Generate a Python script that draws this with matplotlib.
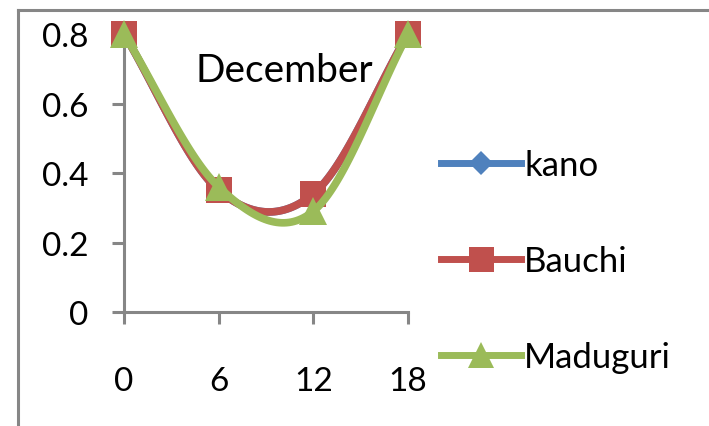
import numpy as np
import matplotlib
matplotlib.use("Agg")
import matplotlib.pyplot as plt
from matplotlib.lines import Line2D

plt.rcParams['font.family'] = ['Lato', 'DejaVu Sans']

hours = [0, 6, 12, 18]
kano = [0.80, 0.35, 0.34, 0.80]
bauchi = [0.80, 0.35, 0.34, 0.80]
maduguri = [0.80, 0.36, 0.29, 0.80]
series_names = ["kano", "Bauchi", "Maduguri"]
colors = ["#4F81BD", "#C0504D", "#9BBB59"]
markers = ["D", "s", "^"]
msizes = [12, 19, 20]
yticks = [0, 0.2, 0.4, 0.6, 0.8]
xticks = [0, 6, 12, 18]
title = "December"


def smooth(x, y, n=40):
    # Excel-style smoothed line (cubic Bezier, Catmull-Rom-like control points)
    p = np.column_stack([x, y]).astype(float)
    out = []
    for i in range(len(p) - 1):
        p1 = p[i]
        p2 = p[i + 1]
        if i > 0:
            c1 = p1 + (p2 - p[i - 1]) / 6.0
        else:
            c1 = p1 + (p2 - p1) / 3.0
        if i + 2 < len(p):
            c2 = p2 - (p[i + 2] - p1) / 6.0
        else:
            c2 = p2 - (p2 - p1) / 3.0
        t = np.linspace(0, 1, n)[:, None]
        seg = ((1 - t) ** 3) * p1 + 3 * ((1 - t) ** 2) * t * c1 + 3 * (1 - t) * t ** 2 * c2 + t ** 3 * p2
        out.append(seg if i == 0 else seg[1:])
    s = np.vstack(out)
    return s[:, 0], s[:, 1]


W, H = 709, 427
fig = plt.figure(figsize=(W / 100, H / 100), dpi=100)
fig.patch.set_facecolor("white")

# chart-area border (left and top visible)
gray = "#868686"
fig.add_artist(Line2D([18 / W, 18 / W], [0, 1 - 11 / H], color=gray, lw=2.2, transform=fig.transFigure))
fig.add_artist(Line2D([18 / W, 1.0], [1 - 11 / H, 1 - 11 / H], color=gray, lw=2.2, transform=fig.transFigure))

left, right, top, bottom = 124, 408, 35, 313
ax = fig.add_axes([left / W, 1 - bottom / H, (right - left) / W, (bottom - top) / H])
ax.set_xlim(0, 18)
ax.set_ylim(0, 0.8)

data = [kano, bauchi, maduguri]
for k, (vals, name, c, m, ms) in enumerate(zip(data, series_names, colors, markers, msizes)):
    sx, sy = smooth(hours, vals)
    ax.plot(sx, sy, color=c, lw=5.5, solid_capstyle='round', zorder=3 + 2 * k, clip_on=False)
    ax.plot(hours, vals, linestyle='none', marker=m, ms=ms, color=c, markeredgewidth=0,
            zorder=4 + 2 * k, clip_on=False)

for s in ["top", "right"]:
    ax.spines[s].set_visible(False)
for s in ["left", "bottom"]:
    ax.spines[s].set_color(gray)
    ax.spines[s].set_linewidth(2.2)
ax.set_xticks(xticks)
ax.set_xticklabels([str(v) for v in xticks])
ax.set_yticks(yticks)
ax.set_yticklabels(["0" if v == 0 else f"{v:.1f}" for v in yticks])
ax.tick_params(axis='both', direction='out', length=8.6, width=2.2, color=gray,
               labelsize=24, labelcolor="black")
ax.tick_params(axis='y', pad=17)
ax.tick_params(axis='x', pad=30)
ax.patch.set_alpha(0)

ax.text((284 - left) / (right - left), (bottom - 82) / (bottom - top), title,
        transform=ax.transAxes, ha='center', va='baseline', fontsize=28, color='black', zorder=20)

leg_sizes = [12, 18, 19]
handles = [Line2D([], [], color=c, lw=5, marker=m, ms=ms, markeredgewidth=0)
           for c, m, ms in zip(colors, markers, leg_sizes)]
leg = fig.legend(handles, series_names, loc='center left',
                 bbox_to_anchor=(441 / W, 1 - 262 / H), frameon=False,
                 fontsize=25, handlelength=2.3, handletextpad=0.1, labelspacing=1.85,
                 borderaxespad=0, borderpad=0)

fig.savefig("out.png", dpi=100)
